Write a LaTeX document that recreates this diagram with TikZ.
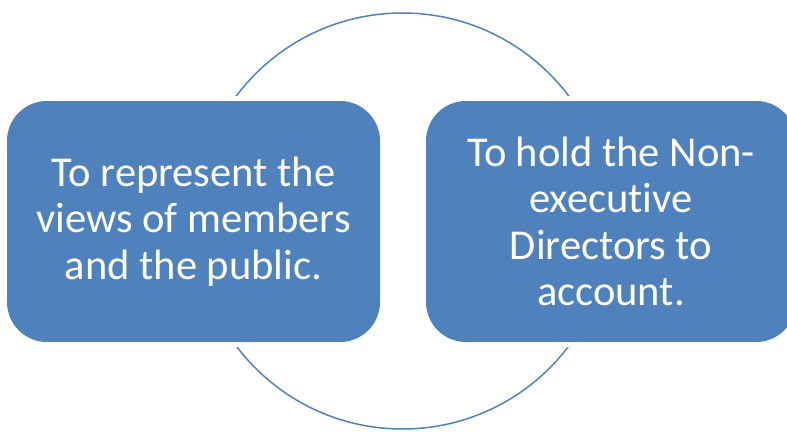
\documentclass[tikz,border=0pt]{standalone}
\usepackage{fontspec}
\setmainfont[Ligatures=NoCommon]{Carlito}
\definecolor{boxblue}{HTML}{4F81BD}
\tikzset{
  ringstyle/.style={circle, draw=boxblue, line width=1.5pt, minimum size=416pt, inner sep=0pt},
  bluebox/.style={rectangle, rounded corners=40pt, fill=boxblue, draw=none,
    preaction={draw=white, line width=10pt},
    minimum width=373pt, minimum height=241pt, inner sep=0pt,
    text=white, align=center, font=\fontsize{42.5}{46.5}\selectfont}
}
\begin{document}
\begin{tikzpicture}[x=1pt,y=-1pt]
\useasboundingbox (0,0) rectangle (787,431);
\node[ringstyle] (ring) at (402.5,221) {};
\node[bluebox] (left) at (193.5,221.5) {To represent the\\views of members\\and the public.};
\node[bluebox, minimum width=370pt] (right) at (611,221.5) {To hold the Non-\\executive\\Directors to\\account.};
\end{tikzpicture}
\end{document}
